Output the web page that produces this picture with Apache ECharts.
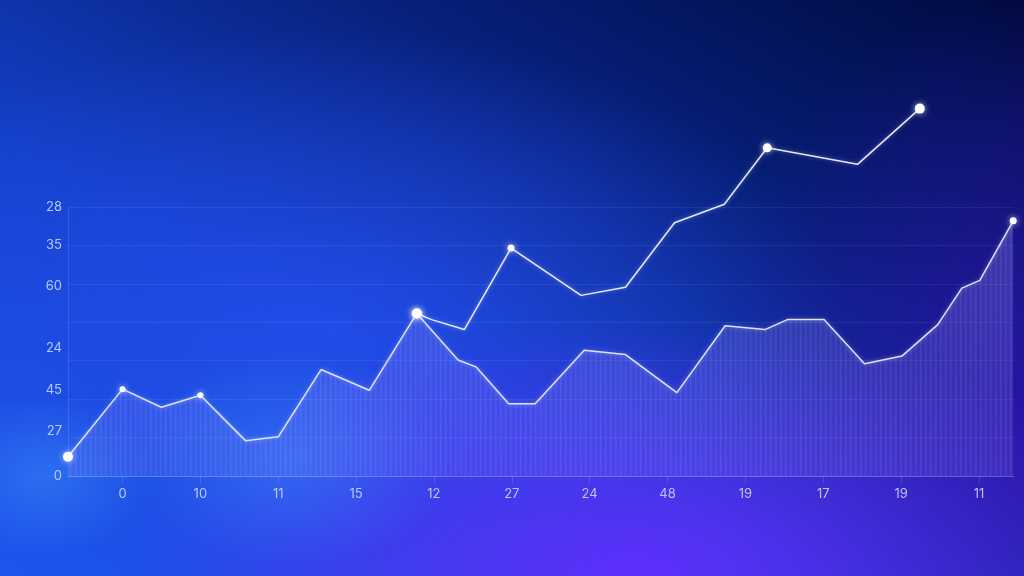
<!DOCTYPE html>
<html>
<head>
<meta charset="utf-8">
<script src="https://cdn.jsdelivr.net/npm/echarts@6/dist/echarts.min.js"></script>
<style>
html,body{margin:0;padding:0;width:1024px;height:576px;overflow:hidden;}
#bg{position:absolute;left:0;top:0;width:1024px;height:576px;
background:
 radial-gradient(ellipse 110px 80px at 45px 475px, rgba(70,160,255,0.38), rgba(70,160,255,0) 100%),
 radial-gradient(ellipse 160px 110px at 290px 460px, rgba(60,150,255,0.42), rgba(60,150,255,0) 100%),
 radial-gradient(ellipse 520px 260px at 640px 580px, rgba(100,45,255,0.95), rgba(100,45,255,0) 100%),
 radial-gradient(ellipse 330px 420px at 1030px 420px, rgba(45,18,170,0.85), rgba(45,18,170,0) 100%),
 radial-gradient(ellipse 520px 300px at 330px 330px, rgba(40,80,245,0.7), rgba(40,80,245,0) 100%),
 linear-gradient(to bottom left, #010a40 0%, #061f78 30%, #1440c8 62%, #1c56ee 100%);}
#chart{position:absolute;left:0;top:0;width:1024px;height:576px;}
</style>
</head>
<body>
<div id="bg"></div>
<div id="chart"></div>
<script>
// ---- data ----
const xTickLabels = ['0','10','11','15','12','27','24','48','19','17','19','11'];
const xTickValues = [1,2,3,4,5,6,7,8,9,10,11,12];
const yTickLabels = ['0','27','45','24','60','35','28'];
const yTickValues = [0, 11.7, 22.3, 33.4, 49.3, 60, 70];

const lowerT = [0.3,1.0,1.5,2.0,2.58,3.0,3.55,4.17,4.78,5.31,5.54,5.96,6.3,6.93,7.46,8.12,8.74,9.25,9.54,10.01,10.53,11.01,11.47,11.78,12.01,12.44];
const lowerV = [5.0,22.6,17.9,21.0,9.2,10.2,27.7,22.3,42.3,30.2,28.4,18.8,18.8,32.7,31.6,21.7,39.1,38.1,40.7,40.7,29.2,31.2,39.4,48.9,50.9,66.4];
const upperT = [4.78,4.97,5.39,5.99,6.89,7.46,8.09,8.73,9.28,10.44,11.24];
const upperV = [42.3,40.7,38.1,59.3,47.0,49.1,65.9,70.7,85.4,81.1,95.6];

// highlighted points (index -> marker size)
const lowerMarks = {0:10, 1:6, 3:6, 8:10, 25:7};
const upperMarks = {0:10, 3:7, 8:9, 10:10};

function build(ts, vs, marks){
  return ts.map((t,i)=>{
    const item = {value:[t, vs[i]]};
    if (marks[i] !== undefined) { item.symbol='circle'; item.symbolSize=marks[i]; }
    else { item.symbol='none'; }
    return item;
  });
}

// striped fill pattern
const pc = document.createElement('canvas');
pc.width = 5; pc.height = 576;
const ctx = pc.getContext('2d');
const g = ctx.createLinearGradient(0,207,0,477);
g.addColorStop(0,'rgba(150,140,255,0.30)');
g.addColorStop(1,'rgba(140,130,255,0.16)');
ctx.fillStyle = g; ctx.fillRect(0,0,5,576);
ctx.fillStyle = 'rgba(255,255,255,0.07)';
ctx.fillRect(0,0,1.5,576);

const chart = echarts.init(document.getElementById('chart'), null, {renderer:'canvas'});
const labelColor = 'rgba(205,218,255,0.88)';
chart.setOption({
  backgroundColor:'transparent',
  animation:false,
  grid:{left:68, right:10, top:207, bottom:100, show:false},
  xAxis:{
    type:'value', min:0.3, max:12.45,
    axisLine:{show:true, lineStyle:{color:'rgba(255,255,255,0.22)', width:1}},
    axisTick:{show:true, customValues:xTickValues, length:7, lineStyle:{color:'rgba(255,255,255,0.15)'}},
    axisLabel:{customValues:xTickValues, margin:12, color:labelColor, fontSize:13, fontFamily:'Inter, Roboto, sans-serif',
      formatter:v=>xTickLabels[Math.round(v)-1]},
    splitLine:{show:false}
  },
  yAxis:{
    type:'value', min:0, max:70, interval:10,
    axisLine:{show:true, lineStyle:{color:'rgba(255,255,255,0.12)'}},
    axisTick:{show:false},
    axisLabel:{customValues:yTickValues, margin:6, color:labelColor, fontSize:13, fontFamily:'Inter, Roboto, sans-serif',
      formatter:v=>{const i=yTickValues.indexOf(v); return i>=0?yTickLabels[i]:'';}},
    splitLine:{show:true, lineStyle:{color:'rgba(255,255,255,0.07)'}}
  },
  series:[
    {
      type:'line', data:build(lowerT, lowerV, lowerMarks), clip:false,
      showSymbol:true, showAllSymbol:true,
      lineStyle:{color:'rgba(235,238,255,0.92)', width:1.5, shadowBlur:4, shadowColor:'rgba(255,255,255,0.4)'},
      itemStyle:{color:'#ffffff', shadowBlur:6, shadowColor:'rgba(255,255,255,0.7)'},
      areaStyle:{color:{image:pc, repeat:'repeat'}, opacity:1},
      z:3
    },
    {
      type:'line', data:build(upperT, upperV, upperMarks), clip:false,
      showSymbol:true, showAllSymbol:true,
      lineStyle:{color:'rgba(240,242,255,0.95)', width:1.5, shadowBlur:4, shadowColor:'rgba(255,255,255,0.4)'},
      itemStyle:{color:'#ffffff', shadowBlur:6, shadowColor:'rgba(255,255,255,0.7)'},
      z:4
    }
  ]
});
</script>
</body>
</html>
